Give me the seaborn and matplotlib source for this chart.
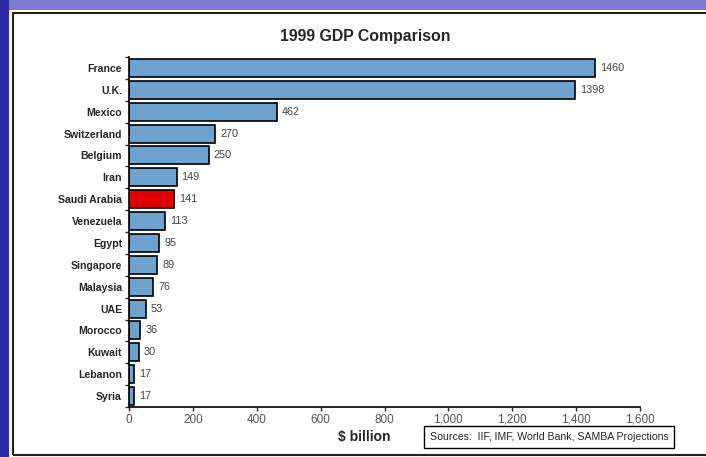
import seaborn as sns
import matplotlib
matplotlib.use('Agg')
import matplotlib.pyplot as plt
from matplotlib.patches import Rectangle
import pandas as pd

countries = ['France', 'U.K.', 'Mexico', 'Switzerland', 'Belgium', 'Iran',
             'Saudi Arabia', 'Venezuela', 'Egypt', 'Singapore', 'Malaysia',
             'UAE', 'Morocco', 'Kuwait', 'Lebanon', 'Syria']
gdp = [1460, 1398, 462, 270, 250, 149, 141, 113, 95, 89, 76, 53, 36, 30, 17, 17]
highlight = 'Saudi Arabia'
x_ticks = [0, 200, 400, 600, 800, 1000, 1200, 1400, 1600]


def main():
    sns.set_style('white')
    plt.rcParams['font.family'] = ['Liberation Sans', 'DejaVu Sans']

    df = pd.DataFrame({'country': countries, 'gdp': gdp})
    palette = {c: ('#e00000' if c == highlight else '#6fa3cf') for c in countries}

    fig = plt.figure(figsize=(7.06, 4.57), dpi=100)
    W, H = 706, 457

    # slide background bands and frame
    fig.patches.append(Rectangle((0, (H - 10) / H), 1, 10 / H, transform=fig.transFigure,
                                 facecolor='#7d7bcd', edgecolor='none', zorder=0))
    fig.patches.append(Rectangle((0, 0), 9 / W, 1, transform=fig.transFigure,
                                 facecolor='#2c2ca8', edgecolor='none', zorder=0))
    fig.patches.append(Rectangle((9 / W, 0), 2 / W, (H - 10) / H, transform=fig.transFigure,
                                 facecolor='#fff3dc', edgecolor='none', zorder=0))
    fig.patches.append(Rectangle((12.5 / W, 2 / H), 700 / W, 442 / H, transform=fig.transFigure,
                                 facecolor='none', edgecolor='#222222', linewidth=1.5, zorder=1))

    ax = fig.add_axes([129 / W, 50 / H, 511 / W, 350 / H])
    sns.barplot(data=df, x='gdp', y='country', hue='country', palette=palette,
                legend=False, width=0.82, edgecolor='black', linewidth=1.2,
                saturation=1, ax=ax)

    for i, v in enumerate(gdp):
        ax.text(v + 15, i, str(v), va='center', ha='left', fontsize=7.8, color='#444444')

    ax.set_xlim(0, 1600)
    ax.set_ylim(15.5, -0.5)
    ax.set_xticks(x_ticks)
    ax.set_xticklabels([f'{t:,}' for t in x_ticks], fontsize=8.5, color='#555555')
    ax.set_yticks(range(len(countries)))
    ax.set_yticklabels(countries, fontsize=7.6, fontweight='bold')
    ax.tick_params(axis='y', length=0, pad=5)
    ax.set_yticks([i - 0.5 for i in range(len(countries) + 1)], minor=True)
    ax.tick_params(axis='y', which='minor', length=3, direction='out', width=1, left=True)
    ax.tick_params(axis='x', length=3, direction='out', width=1, bottom=True, pad=2)
    ax.set_xlabel('')
    ax.set_ylabel('')
    for side in ['top', 'right']:
        ax.spines[side].set_visible(False)
    for side in ['left', 'bottom']:
        ax.spines[side].set_color('black')
        ax.spines[side].set_linewidth(1.2)

    fig.text(365 / W, (H - 37) / H, '1999 GDP Comparison', ha='center', va='center',
             fontsize=11.4, fontweight='bold')
    fig.text(364 / W, (H - 437) / H, '$ billion', ha='center', va='center',
             fontsize=10, fontweight='bold')
    fig.text(549 / W, (H - 437) / H, 'Sources:  IIF, IMF, World Bank, SAMBA Projections',
             ha='center', va='center', fontsize=7.6,
             bbox=dict(boxstyle='square,pad=0.55', facecolor='white', edgecolor='black', linewidth=1))

    plt.savefig('out.png', dpi=100)


if __name__ == '__main__':
    main()
